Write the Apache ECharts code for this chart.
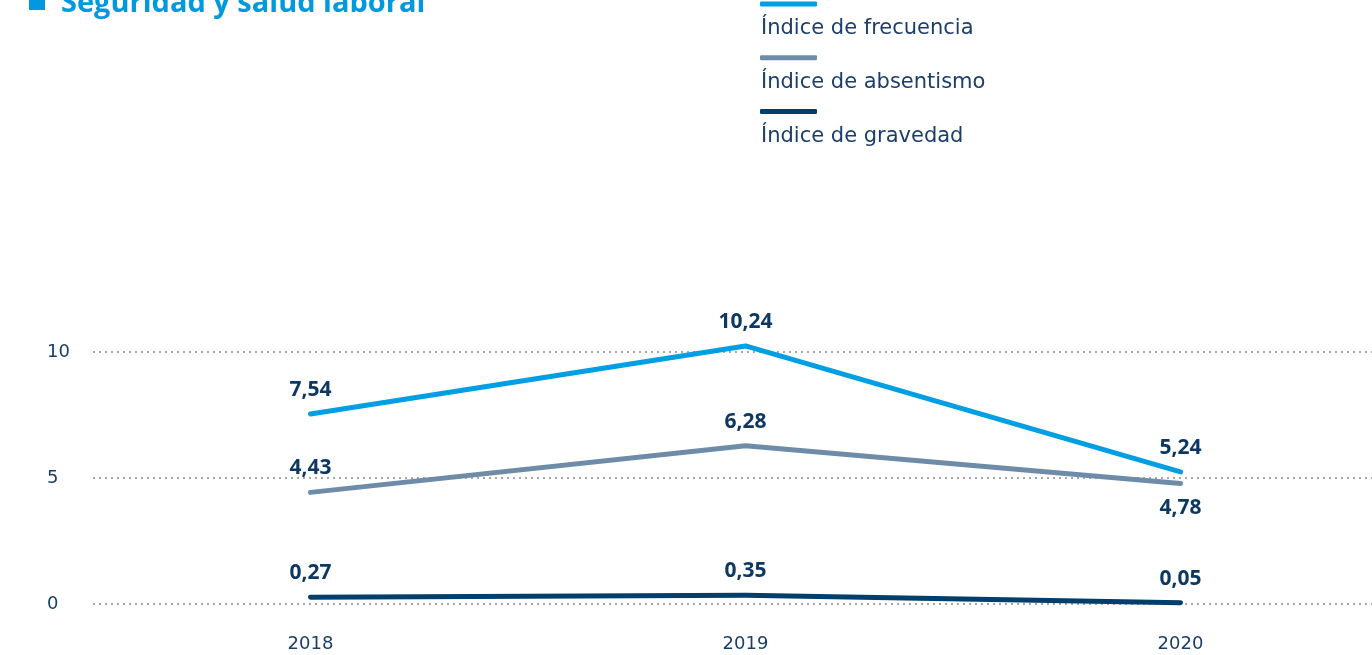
<!DOCTYPE html>
<html>
<head>
<meta charset="utf-8">
<script src="https://cdn.jsdelivr.net/npm/echarts@6/dist/echarts.min.js"></script>
<style>
  html, body { margin: 0; padding: 0; background: #fff; }
  #chart { width: 1372px; height: 655px; }
</style>
</head>
<body>
<div id="chart"></div>
<script>
const years = ['2018', '2019', '2020']
const seriesNames = ['Índice de frecuencia', 'Índice de absentismo', 'Índice de gravedad']
const frecuencia = [7.54, 10.24, 5.24]
const absentismo = [4.43, 6.28, 4.78]
const gravedad = [0.27, 0.35, 0.05]
const yTicks = [0, 5, 10]

const colors = ['#009fe3', '#6e8ca8', '#003e6b']
const textColor = '#1c3e6a'
const labelColor = '#0d3862'
const font = '"DejaVu Sans", sans-serif'
const boldFont = '"Open Sans", "DejaVu Sans", sans-serif'

const chart = echarts.init(document.getElementById('chart'))

const fmt = v => v.toFixed(2).replace('.', ',')

const makeSeries = (name, data, idx, belowAt) => ({
  name,
  type: 'line',
  clip: false,
  symbol: 'circle',
  symbolSize: 1,
  showSymbol: true,
  lineStyle: { width: 5, color: colors[idx], cap: 'round', join: 'round' },
  itemStyle: { color: colors[idx] },
  data: data.map((v, i) => ({
    value: v,
    label: { position: belowAt === i ? 'bottom' : 'top' }
  })),
  label: {
    show: true,
    distance: 13,
    color: labelColor,
    fontFamily: boldFont,
    fontWeight: 'bold',
    fontSize: 21,
    formatter: p => fmt(p.value)
  }
})

const option = {
  color: colors,
  animation: false,
  graphic: [
    { type: 'rect', left: 29, top: -4, shape: { width: 16, height: 14 }, style: { fill: '#0099dd' } }
  ],
  title: {
    text: 'Seguridad y salud laboral',
    left: 56,
    top: -16,
    textStyle: { color: '#0099dd', fontFamily: boldFont, fontWeight: 'bold', fontSize: 29 }
  },
  legend: [
    {
      // line swatches
      orient: 'vertical',
      left: 760,
      top: 1.5,
      padding: 0,
      itemWidth: 57,
      itemHeight: 5,
      itemGap: 48.7,
      icon: 'roundRect',
      data: seriesNames,
      formatter: () => ' ',
      textStyle: { fontSize: 1, lineHeight: 1 }
    },
    {
      // names under the swatches
      orient: 'vertical',
      left: 756,
      top: 17,
      padding: 0,
      itemWidth: 0,
      itemHeight: 0,
      itemGap: 29.7,
      icon: 'none',
      data: seriesNames,
      textStyle: { color: textColor, fontFamily: font, fontSize: 21, lineHeight: 24 }
    }
  ],
  grid: { left: 93, width: 1305, top: 352, bottom: 51, outerBoundsMode: 'none', containLabel: false },
  xAxis: {
    type: 'category',
    data: years,
    boundaryGap: true,
    axisLine: { show: false },
    axisTick: { show: false },
    axisLabel: { color: textColor, fontFamily: font, fontSize: 18, margin: 31 }
  },
  yAxis: {
    type: 'value',
    min: yTicks[0],
    max: yTicks[yTicks.length - 1],
    interval: 5,
    axisLine: { show: false },
    axisTick: { show: false },
    axisLabel: { color: textColor, fontFamily: font, fontSize: 18, align: 'left', margin: 46 },
    splitLine: { show: true, lineStyle: { color: '#a8a8a8', type: [2, 4], width: 2 } }
  },
  series: [
    makeSeries(seriesNames[0], frecuencia, 0, -1),
    makeSeries(seriesNames[1], absentismo, 1, 2),
    makeSeries(seriesNames[2], gravedad, 2, -1)
  ]
}

chart.setOption(option)
</script>
</body>
</html>
